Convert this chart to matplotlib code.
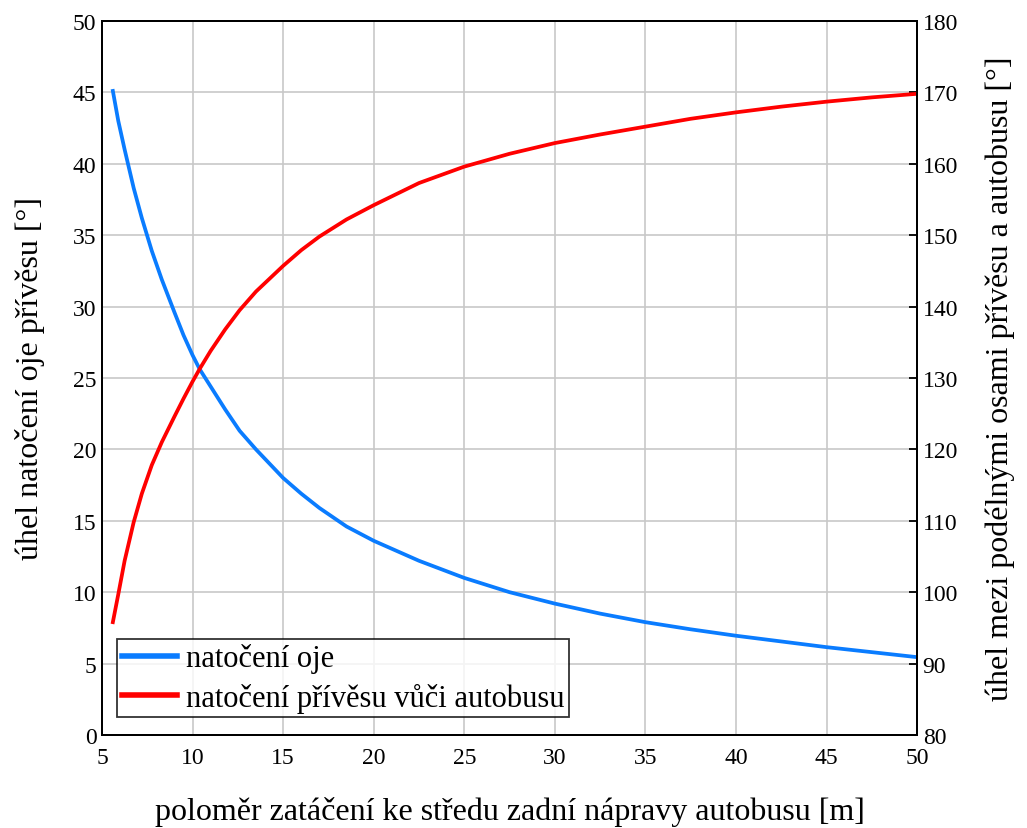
import numpy as np
import matplotlib
matplotlib.use("Agg")
import matplotlib.pyplot as plt

plt.rcParams['font.family'] = ['Liberation Serif', 'DejaVu Serif']

# polomer zataceni [m]
polomer = np.array([5.6, 5.9, 6.25, 6.75, 7.2, 7.75, 8.3, 9.0, 9.5, 10.0, 10.4, 11.0,
                    11.8, 12.6, 13.5, 15.0, 16.0, 17.0, 18.5, 20.0, 22.5, 25.0, 27.5,
                    30.0, 32.5, 35.0, 37.5, 40.0, 42.5, 45.0, 47.5, 50.0])
# natoceni oje [deg] - leva osa
oje = np.array([45.1, 43.0, 41.0, 38.3, 36.2, 33.9, 31.9, 29.6, 28.0, 26.6, 25.6, 24.4,
                22.8, 21.3, 20.0, 18.0, 16.9, 15.9, 14.6, 13.6, 12.2, 11.0, 10.0,
                9.2, 8.5, 7.9, 7.4, 6.95, 6.55, 6.15, 5.8, 5.45])
# natoceni privesu vuci autobusu [deg] - prava osa
privesu = np.array([95.8, 99.7, 104.4, 109.8, 113.8, 117.8, 121.0, 124.6, 127.1, 129.5, 131.3, 133.8,
                    136.8, 139.5, 142.1, 145.7, 147.9, 149.8, 152.2, 154.2, 157.3, 159.6, 161.4,
                    162.9, 164.1, 165.2, 166.3, 167.2, 168.0, 168.7, 169.3, 169.8])

xticks = np.arange(5, 51, 5)
lticks = np.arange(0, 51, 5)
rticks = np.arange(80, 181, 10)

fig = plt.figure(figsize=(10.27, 8.29), dpi=100)
ax = fig.add_axes([0.0993, 0.1122, 0.7937, 0.8613])
ax2 = ax.twinx()

l1, = ax.plot(polomer, oje, color="#0a7cff", lw=2.7, label="natočení oje")
l2, = ax2.plot(polomer, privesu, color="#ff0000", lw=2.7, label="natočení přívěsu vůči autobusu")

ax.set_xlim(5, 50)
ax.set_ylim(0, 50)
ax2.set_ylim(80, 180)
ax.set_xticks(xticks)
ax.set_yticks(lticks)
ax2.set_yticks(rticks)

ax.grid(True, color="#c8c8c8", lw=1.2)
ax.set_axisbelow(True)
ax.tick_params(axis="y", length=0, labelsize=17, pad=4)
ax.tick_params(axis="x", length=0, labelsize=17, pad=9)
ax2.tick_params(axis="y", direction="in", length=6, width=1.3, labelsize=17, pad=4)

for a in (ax, ax2):
    for s in a.spines.values():
        s.set_linewidth(1.4)
        s.set_color("black")

ax.set_xlabel("poloměr zatáčení ke středu zadní nápravy autobusu [m]", fontsize=23, labelpad=20)
ax.set_ylabel("úhel natočení oje přívěsu [°]", fontsize=23, labelpad=20)
ax2.set_ylabel("úhel mezi podélnými osami přívěsu a autobusu [°]", fontsize=23, labelpad=20)

leg = ax2.legend(handles=[l1, l2], loc="lower left", bbox_to_anchor=(0.019, 0.025),
                 fontsize=22, frameon=True, fancybox=False, handlelength=1.8,
                 handletextpad=0.3, borderpad=0.15, labelspacing=0.3, borderaxespad=0)
leg.get_frame().set_edgecolor("black")
leg.get_frame().set_linewidth(1.3)
for ln in leg.get_lines():
    ln.set_linewidth(4)

fig.savefig("out.png", dpi=100)
